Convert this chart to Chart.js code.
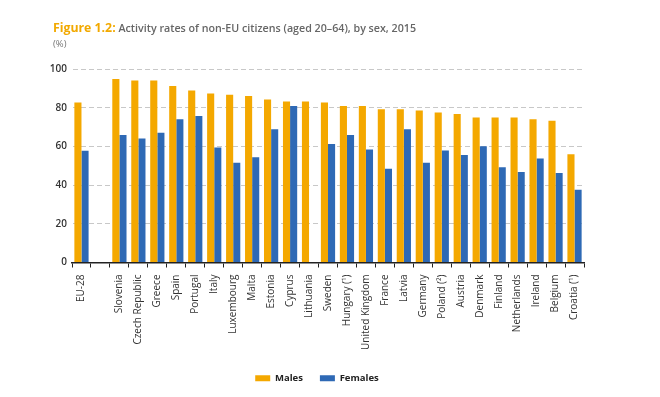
<!DOCTYPE html>
<html>
<head>
<meta charset="utf-8">
<script src="https://cdn.jsdelivr.net/npm/chart.js@4/dist/chart.umd.min.js"></script>
<style>
  html,body{margin:0;padding:0;background:#fff;}
  #wrap{position:relative;width:660px;height:397px;}
  #title{position:absolute;left:53px;top:19px;font-family:"Open Sans",sans-serif;font-size:10.7px;font-weight:600;color:#666;white-space:nowrap;}
  #title .fig{color:#f2a900;font-weight:700;font-size:12.3px;}
  #sub{position:absolute;left:53px;top:37px;font-family:"Open Sans",sans-serif;font-size:9.5px;color:#777;}
  canvas{position:absolute;left:0;top:0;}
</style>
</head>
<body>
<div id="wrap">
  <canvas id="c" width="660" height="397"></canvas>
  <div id="title"><span class="fig">Figure 1.2:</span> Activity rates of non-EU citizens (aged 20–64), by sex, 2015</div>
  <div id="sub">(%)</div>
</div>
<script>
const categories = ["EU-28", "", "Slovenia", "Czech Republic", "Greece", "Spain", "Portugal", "Italy", "Luxembourg", "Malta", "Estonia", "Cyprus", "Lithuania", "Sweden", "Hungary (¹)", "United Kingdom", "France", "Latvia", "Germany", "Poland (²)", "Austria", "Denmark", "Finland", "Netherlands", "Ireland", "Belgium", "Croatia (¹)"];
const males   = [82.7, null, 94.8, 94.1, 94.1, 91.2, 88.9, 87.3, 86.7, 86.0, 84.2, 83.2, 83.2, 82.7, 80.9, 80.9, 79.2, 79.2, 78.5, 77.5, 76.8, 75.0, 75.0, 75.0, 74.0, 73.3, 56.0];
const females = [57.7, null, 65.9, 64.1, 67.1, 74.0, 75.7, 59.4, 51.5, 54.4, 68.8, 80.9, null, 61.2, 65.9, 58.4, 48.5, 68.8, 51.5, 57.9, 55.5, 60.1, 49.2, 46.8, 53.7, 46.3, 37.6];
const yTicks = [0, 20, 40, 60, 80, 100];
const seriesNames = ["Males", "Females"];

const FONT = '"Open Sans", sans-serif';

const shiftLegend = {
  id: 'shiftLegend',
  afterLayout(chart) {
    if (chart.legend) { chart.legend.left += 50; }
  }
};

new Chart(document.getElementById('c'), {
  type: 'bar',
  data: {
    labels: categories,
    datasets: [
      { label: seriesNames[0], data: males, backgroundColor: '#f4a800', barPercentage: 1.0, categoryPercentage: 0.75 },
      { label: seriesNames[1], data: females, backgroundColor: '#2e69b5', barPercentage: 1.0, categoryPercentage: 0.75 }
    ]
  },
  plugins: [shiftLegend],
  options: {
    responsive: false,
    animation: false,
    devicePixelRatio: 1,
    layout: { padding: { top: 69, left: 0, right: 76, bottom: 4 } },
    plugins: {
      title: { display: false },
      tooltip: { enabled: false },
      legend: {
        position: 'bottom',
        labels: {
          boxWidth: 15, boxHeight: 6, padding: 17,
          color: '#222',
          font: { family: FONT, size: 9.5, weight: 'bold' }
        }
      }
    },
    scales: {
      x: {
        offset: true,
        afterFit: s => { s.height = 94; },
        grid: { display: true, offset: true, drawOnChartArea: false, drawTicks: true, tickLength: 5, color: '#222', lineWidth: 1 },
        border: { display: true, color: '#222', width: 1.5 },
        ticks: { autoSkip: false, maxRotation: 90, minRotation: 90, padding: 7, color: '#333', font: { family: FONT, size: 10 } }
      },
      y: {
        min: 0, max: 100,
        afterFit: s => { s.width = 72; },
        afterBuildTicks: s => { s.ticks = yTicks.map(v => ({ value: v })); },
        grid: { drawTicks: false, color: '#c8c8c8', lineWidth: 1 },
        border: { display: true, color: 'rgba(0,0,0,0)', dash: [5, 3] },
        ticks: { padding: 5, color: '#333', font: { family: FONT, size: 10, weight: '600' } }
      }
    }
  }
});
</script>
</body>
</html>
